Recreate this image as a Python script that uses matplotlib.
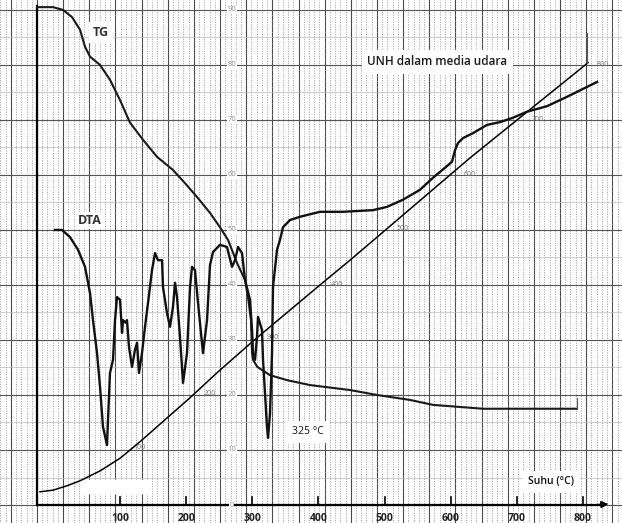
import numpy as np
import matplotlib
matplotlib.use("Agg")
import matplotlib.pyplot as plt

plt.rcParams['font.family'] = ['Open Sans', 'DejaVu Sans']

# ---- data (x: temperature in °C, y: chart scale 0-90) ----
tg_T = [-25.7, -1.5, 13.6, 27.2, 39.3, 46.9, 54.5, 69.6, 84.7, 99.9,
        115.0, 134.6, 155.8, 180.0, 198.2, 216.3, 236.0, 251.1, 263.2, 276.9,
        289.0, 293.5, 298.0, 299.6, 301.1, 307.6, 326.8, 352.5, 387.3, 447.8,
        488.7, 538.6, 573.4, 649.0, 724.7, 791.2]
tg_V = [90.5, 90.5, 90.0, 88.7, 86.4, 83.3, 81.5, 80.0, 77.3, 73.6,
        69.5, 66.4, 63.3, 60.9, 58.5, 56.0, 53.1, 50.5, 48.2, 44.0,
        40.9, 37.8, 33.6, 27.6, 26.4, 25.1, 23.6, 22.7, 21.8, 20.9,
        20.0, 19.1, 18.2, 17.5, 17.5, 17.5]
tg_end_T = [791.2, 791.2]
tg_end_V = [17.5, 19.5]

dta_T = [1.5, 12.1, 24.2, 36.3, 46.9, 54.5, 59.0, 65.1, 69.6, 74.1,
         80.2, 81.7, 84.7, 89.3, 92.3, 95.3, 99.9, 102.9, 104.4, 108.9,
         110.4, 113.5, 118.0, 122.5, 125.6, 128.6, 133.1, 137.7, 142.2, 148.3,
         152.8, 157.3, 163.4, 164.9, 170.9, 175.5, 180.0, 183.1, 186.1, 190.6,
         195.2, 201.2, 205.8, 208.8, 213.3, 217.9, 225.4, 231.5, 236.0, 240.6,
         251.1, 261.7, 269.3, 273.8, 278.4, 284.4, 289.0, 296.5, 299.6, 301.1,
         304.1, 307.1, 308.6, 314.7, 316.2, 322.2, 323.8, 326.8, 329.8, 331.3,
         337.4, 341.9, 346.5, 357.0, 372.2, 402.4, 437.2, 482.6, 503.8, 528.0,
         553.7, 573.4, 591.5, 602.1, 606.7, 611.2, 618.8, 633.9, 655.1, 674.8,
         694.4, 715.6, 745.9, 776.1, 821.5]
dta_V = [50.0, 50.0, 48.7, 46.4, 43.3, 38.5, 33.6, 27.6, 21.5, 14.2,
         10.9, 15.5, 24.0, 26.4, 33.6, 37.8, 37.3, 31.3, 33.6, 33.1,
         33.6, 28.7, 25.1, 28.2, 29.5, 24.0, 27.6, 32.4, 36.7, 42.7,
         45.8, 44.5, 44.5, 39.6, 34.9, 32.4, 36.0, 40.4, 37.8, 30.5,
         22.2, 27.6, 39.6, 43.3, 42.7, 36.7, 27.6, 33.6, 43.6, 46.0,
         47.3, 46.9, 43.3, 44.5, 46.9, 45.8, 40.9, 37.3, 31.8, 27.6,
         26.4, 30.5, 34.2, 31.8, 26.4, 14.2, 12.2, 16.7, 27.6, 39.6,
         46.4, 48.2, 50.5, 51.8, 52.4, 53.3, 53.3, 53.6, 54.2, 55.5,
         57.3, 59.5, 61.3, 62.4, 64.5, 65.8, 66.7, 67.6, 69.1, 69.6,
         70.4, 71.5, 72.5, 74.2, 76.9]

temp_T = [-21.2, -1.5, 19.7, 39.3, 69.6, 99.9, 130.1, 205.8, 248.1, 301.1,
          402.4, 447.8, 629.4, 807.9]
temp_V = [2.4, 2.7, 3.5, 4.4, 6.2, 8.5, 11.5, 19.5, 24.2, 29.8,
          40.0, 44.5, 63.1, 80.4]
temp_end_T = [806.4, 806.4]
temp_end_V = [80.4, 85.8]

x_ticks = [100, 200, 300, 400, 500, 600, 700, 800]
x_tick_labels = ["100", "200", "300", "400", "500", "600", "700", "800"]
scale_values = [90, 80, 70, 60, 50, 40, 30, 20, 10, 0]
line_marks = ["100", "200", "300", "400", "500", "600", "700", "800"]
line_mark_T = [129, 235, 331, 428, 528, 629, 732, 830]
line_mark_V = [10.4, 20.2, 30.5, 40.0, 50.3, 60.0, 70.0, 80.0]

# ---- figure ----
fig = plt.figure(figsize=(6.22, 5.23), dpi=100)
ax = fig.add_axes([0, 0, 1, 1])
ax.set_xlim(-81.7, 859.3)
ax.set_ylim(-3.27, 91.8)
ax.axis('off')

# chart-paper grid
x0, step = -25.7, 39.56
major_x = x0 + step * np.arange(-2, 24)
for gx in major_x:
    ax.axvline(gx, color='#4a4a4a', lw=0.8, zorder=1)
    for k in range(1, 5):
        ax.axvline(gx + step * k / 5, color='#9a9a9a', lw=0.7,
                   ls=(0, (1, 1.5)), zorder=1)
for gy in range(0, 100, 10):
    ax.axhline(gy, color='#555555', lw=0.8, zorder=1)
for gy in range(5, 95, 10):
    ax.axhline(gy, color='#bbbbbb', lw=0.5, zorder=1)
for gy in np.arange(1, 91, 1):
    if gy % 5:
        ax.axhline(gy, color='#e4e4e4', lw=0.4, ls=(0, (1, 2)), zorder=1)

# blanked-out patch of the scan
ax.fill_between([42, 141], [2.2, 2.2], [4.6, 4.6], color='white', zorder=2)

# axes lines
ax.plot([-25.7, -25.7], [0, 90.8], color='black', lw=1.6, zorder=3)
ax.plot([-25.7, 830], [0, 0], color='black', lw=1.6, zorder=3)
ax.annotate('', xy=(843, 0.2), xytext=(815, 0.0),
            arrowprops=dict(arrowstyle='-|>', color='black', lw=1.2,
                            mutation_scale=10), zorder=3)
for t, lab in zip(x_ticks, x_tick_labels):
    ax.plot([t, t], [0, 1.4], color='black', lw=1.2, zorder=3)
    ax.text(t, -2.5, lab, ha='center', va='center',
            fontsize=7.5, fontweight='bold', color='#222222', zorder=4)

# central scale numbers
for v in scale_values:
    ax.text(269, v, str(v), ha='center', va='center', fontsize=5.5,
            color='#8a8a8a', zorder=4,
            bbox=dict(facecolor='white', edgecolor='none', pad=0.3))

# curves
ax.plot(temp_T, temp_V, color='black', lw=1.1, zorder=5)
ax.plot(temp_end_T, temp_end_V, color='#555555', lw=0.8, zorder=5)
ax.plot(tg_T, tg_V, color='#1a1a1a', lw=1.5, zorder=6)
ax.plot(tg_end_T, tg_end_V, color='#555555', lw=0.8, zorder=6)
ax.plot(dta_T, dta_V, color='#111111', lw=1.7, zorder=7)

# small labels along the temperature line
for s, t, v in zip(line_marks, line_mark_T, line_mark_V):
    ax.text(t, v, s, ha='center', va='center', fontsize=5, color='#777777',
            zorder=4)

# annotations
ax.text(71, 85.9, 'TG', fontsize=9, fontweight='bold', color='#333333',
        ha='center', va='center', zorder=8,
        bbox=dict(facecolor='white', edgecolor='none', pad=3))
ax.text(54, 51.7, 'DTA', fontsize=9, fontweight='bold', color='#333333',
        ha='center', va='center', zorder=8,
        bbox=dict(facecolor='white', edgecolor='none', pad=1.5))
ax.text(580, 80.6, 'UNH dalam media udara', fontsize=8.5, fontweight='semibold',
        color='#1a1a1a', ha='center', va='center', zorder=8,
        bbox=dict(facecolor='white', edgecolor='none', pad=4))
ax.text(384, 13.3, '325 °C', fontsize=7.5, color='#111111',
        ha='center', va='center', zorder=8,
        bbox=dict(facecolor='white', edgecolor='none', pad=4))
ax.text(752, 4.2, 'Suhu (°C)', fontsize=7.5, fontweight='semibold', color='#111111',
        ha='center', va='center', zorder=8,
        bbox=dict(facecolor='white', edgecolor='none', pad=4))

fig.savefig('out.png', dpi=100)
